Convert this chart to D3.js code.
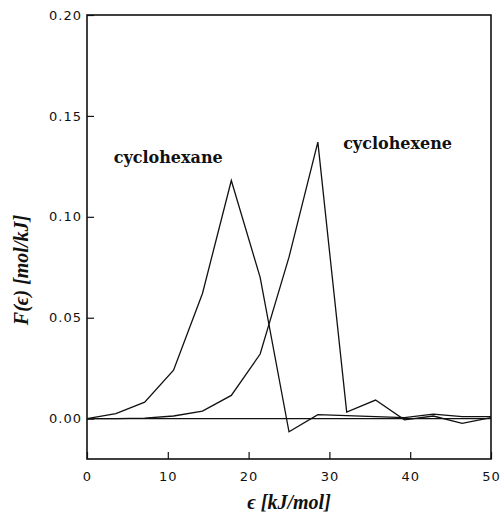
<!DOCTYPE html>
<html>
<head>
<meta charset="utf-8">
<script src="https://cdn.jsdelivr.net/npm/d3@7"></script>
<style>
  body { margin: 0; background: #fff; }
  svg { display: block; }
  .tick text { font-family: "DejaVu Sans", sans-serif; font-size: 13px; letter-spacing: 1px; fill: #111; }
  .label { font-family: "DejaVu Serif", serif; font-weight: bold; font-size: 16px; fill: #111; }
  .axis-title { font-family: "Liberation Serif", serif; font-style: italic; font-weight: bold; font-size: 20px; fill: #111; }
</style>
</head>
<body>
<div id="chart"></div>
<script>
// energy grid (kJ/mol) and distribution values
const energy = [0, 3.57, 7.14, 10.71, 14.29, 17.86, 21.43, 25, 28.57, 32.14, 35.71, 39.29, 42.86, 46.43, 50];
const cyclohexane = [0.000, 0.0025, 0.0082, 0.024, 0.062, 0.118, 0.070, -0.0065, 0.002, 0.0015, 0.001, 0.0005, 0.0022, 0.001, 0.001];
const cyclohexene = [0.000, 0.000, 0.0003, 0.0013, 0.0037, 0.0115, 0.032, 0.080, 0.137, 0.0032, 0.0092, -0.0006, 0.0013, -0.0023, 0.0005];
const xTicks = [0, 10, 20, 30, 40, 50];
const yTicks = [0.00, 0.05, 0.10, 0.15, 0.20];
const seriesNames = ['cyclohexane', 'cyclohexene'];

const W = 501, H = 517;
const margin = { top: 15, right: 10, bottom: 58, left: 87 };
const width = W - margin.left - margin.right;
const height = H - margin.top - margin.bottom;

const svg = d3.select('#chart').append('svg')
    .attr('width', W)
    .attr('height', H);

const g = svg.append('g')
    .attr('transform', `translate(${margin.left},${margin.top})`);

const x = d3.scaleLinear().domain([0, 50]).range([0, width]);
const y = d3.scaleLinear().domain([-0.02, 0.20]).range([height, 0]);

// x axis, ticks pointing inward
const xAxis = g.append('g')
    .attr('transform', `translate(0,${height})`)
    .call(d3.axisBottom(x).tickValues(xTicks).tickSizeInner(-7).tickSizeOuter(0).tickPadding(13));

const yAxis = g.append('g')
    .call(d3.axisLeft(y).tickValues(yTicks).tickFormat(d3.format('.2f')).tickSizeInner(-7).tickSizeOuter(0).tickPadding(5));

[xAxis, yAxis].forEach(a => {
    a.select('.domain').remove();
    a.selectAll('.tick line').attr('stroke', '#111').attr('stroke-width', 1.2);
});

// frame
g.append('rect')
    .attr('width', width)
    .attr('height', height)
    .attr('fill', 'none')
    .attr('stroke', '#111')
    .attr('stroke-width', 1.6);

// zero line
g.append('line')
    .attr('x1', 0).attr('x2', width)
    .attr('y1', y(0)).attr('y2', y(0))
    .attr('stroke', '#111')
    .attr('stroke-width', 1.4);

const line = d3.line()
    .x((d, i) => x(energy[i]))
    .y(d => y(d));

[cyclohexane, cyclohexene].forEach(vals => {
    g.append('path')
        .datum(vals)
        .attr('d', line)
        .attr('fill', 'none')
        .attr('stroke', '#111')
        .attr('stroke-width', 1.3)
        .attr('stroke-linejoin', 'miter');
});

// curve labels
g.append('text').attr('class', 'label')
    .attr('x', x(3.3)).attr('y', y(0.1265))
    .text(seriesNames[0]);
g.append('text').attr('class', 'label')
    .attr('x', x(31.7)).attr('y', y(0.1335))
    .text(seriesNames[1]);

// axis titles
svg.append('text').attr('class', 'axis-title')
    .attr('x', margin.left + x(25))
    .attr('y', 509)
    .attr('text-anchor', 'middle')
    .text('ϵ [kJ/mol]');

svg.append('text').attr('class', 'axis-title')
    .attr('transform', `translate(28,${270}) rotate(-90)`)
    .attr('text-anchor', 'middle')
    .text('F(ϵ) [mol/kJ]');
</script>
</body>
</html>
